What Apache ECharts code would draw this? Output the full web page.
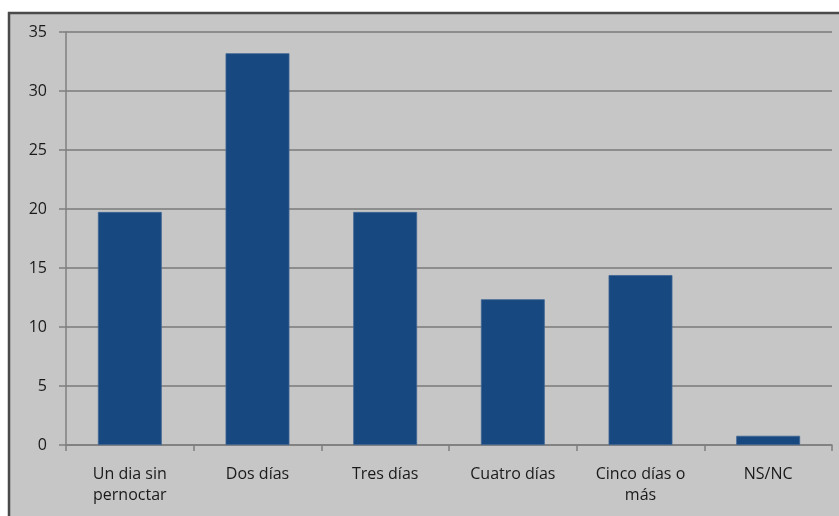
<!DOCTYPE html>
<html>
<head>
<meta charset="utf-8">
<script src="https://cdn.jsdelivr.net/npm/echarts@6/dist/echarts.min.js"></script>
<style>
html,body{margin:0;padding:0;background:#fff;}
#chart{width:839px;height:516px;}
</style>
</head>
<body>
<div id="chart"></div>
<script>
const categories = ['Un dia sin\npernoctar', 'Dos días', 'Tres días', 'Cuatro días', 'Cinco días o\nmás', 'NS/NC'];
const values = [19.75, 33.2, 19.75, 12.35, 14.4, 0.78];
const yTicks = { min: 0, max: 35, interval: 5 };

const chart = echarts.init(document.getElementById('chart'), null, { renderer: 'canvas' });
chart.setOption({
  animation: false,
  backgroundColor: '#ffffff',
  graphic: [
    { type: 'rect', z: -10, shape: { x: 8, y: 12, width: 840, height: 520 }, style: { fill: '#c6c6c6' } },
    { type: 'line', z: -5, shape: { x1: 9, y1: 12, x2: 9, y2: 516 }, style: { stroke: '#4a4a4a', lineWidth: 2.5 } },
    { type: 'line', z: -5, shape: { x1: 8, y1: 13, x2: 839, y2: 13 }, style: { stroke: '#4a4a4a', lineWidth: 2.5 } }
  ],
  grid: { left: 66, right: 7, top: 32, bottom: 71, containLabel: false },
  xAxis: {
    type: 'category',
    data: categories,
    boundaryGap: true,
    axisLine: { show: true, lineStyle: { color: '#7f7f7f', width: 1.5 } },
    axisTick: { show: true, length: 6, lineStyle: { color: '#7f7f7f', width: 1.5 } },
    axisLabel: { interval: 0, margin: 19, color: '#1a1a1a', fontFamily: 'Open Sans', fontSize: 16, lineHeight: 21 }
  },
  yAxis: {
    type: 'value',
    min: yTicks.min, max: yTicks.max, interval: yTicks.interval,
    axisLine: { show: true, lineStyle: { color: '#7f7f7f', width: 1.5 } },
    axisTick: { show: true, length: 7, lineStyle: { color: '#7f7f7f', width: 1.5 } },
    splitLine: { show: true, lineStyle: { color: '#7a7a7a', width: 1.5 } },
    axisLabel: { margin: 19, color: '#1a1a1a', fontFamily: 'Open Sans', fontSize: 16 }
  },
  series: [{
    type: 'bar',
    data: values,
    barWidth: '50%',
    itemStyle: { color: '#17487f', borderColor: '#3d6594', borderWidth: 0.8 }
  }]
});
</script>
</body>
</html>
